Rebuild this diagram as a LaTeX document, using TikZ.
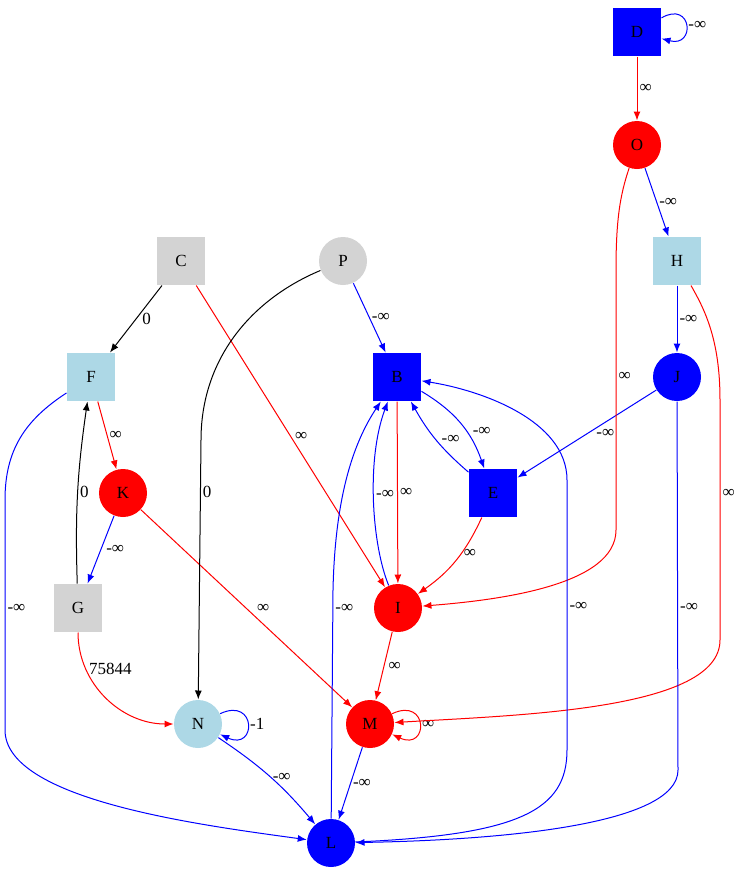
\documentclass[tikz,border=0pt]{standalone}
\usepackage{fontspec}
\setmainfont{Liberation Serif}
\usetikzlibrary{arrows.meta}
\definecolor{gvblue}{RGB}{0,0,255}
\definecolor{gvred}{RGB}{255,0,0}
\definecolor{gvlightblue}{RGB}{173,216,230}
\definecolor{gvlightgray}{RGB}{211,211,211}

\begin{document}
\begin{tikzpicture}[x=1pt, y=1pt, font=\fontsize{17}{20}\selectfont,
    >={Latex[length=9pt,width=7pt]}, line width=1pt, inner sep=2pt,
    sq/.style={rectangle, minimum size=48pt, inner sep=0pt},
    rnd/.style={circle, minimum size=48pt, inner sep=0pt},
    ninf/.style={draw=gvblue},
    pinf/.style={draw=gvred},
    zero/.style={draw=black}]
  \useasboundingbox (0,0) rectangle (744,-873);

  \node[sq, fill=gvblue]       (D) at (637,-32)  {D};
  \node[rnd, fill=gvred]       (O) at (637,-145) {O};
  \node[sq, fill=gvlightblue]  (H) at (677,-261) {H};
  \node[rnd, fill=gvblue]      (J) at (677,-377) {J};
  \node[sq, fill=gvlightgray]  (C) at (181,-261) {C};
  \node[rnd, fill=gvlightgray] (P) at (343,-261) {P};
  \node[sq, fill=gvlightblue]  (F) at (91,-377)  {F};
  \node[sq, fill=gvblue]       (B) at (397,-377) {B};
  \node[sq, fill=gvblue]       (E) at (493,-493) {E};
  \node[rnd, fill=gvred]       (K) at (123,-493) {K};
  \node[sq, fill=gvlightgray]  (G) at (78,-608)  {G};
  \node[rnd, fill=gvred]       (I) at (398,-608) {I};
  \node[rnd, fill=gvlightblue] (N) at (198,-724) {N};
  \node[rnd, fill=gvred]       (M) at (370,-724) {M};
  \node[rnd, fill=gvblue]      (L) at (331,-843) {L};

  \path[->]
  (D) edge[pinf] node[right] {∞} (O)
      edge[ninf, out=30, in=-15, looseness=4.4] node[right] {-∞} (D)
  (O) edge[ninf] node[right] {-∞} (H)
  (H) edge[ninf] node[right] {-∞} (J)
  (J) edge[ninf] node[right=7pt] {-∞} (E)
  (C) edge[zero] node[right=4pt] {0} (F)
      edge[pinf] node[right=2pt] {∞} (I)
  (P) edge[ninf] node[right] {-∞} (B)
  (F) edge[pinf] node[right] {∞} (K)
  (K) edge[ninf] node[right=3pt] {-∞} (G)
      edge[pinf] node[right=8pt] {∞} (M)
  (G) edge[zero, bend left=5] node[right] {0} (F)
      edge[pinf, out=-90, in=180] node[pos=.25, right=1pt] {75844} (N)
  (B) edge[pinf] node[right] {∞} (I)
      edge[ninf, bend left=20] node[pos=.6, right=4pt] {-∞} (E)
  (E) edge[ninf, bend left=10] node[right=3pt] {-∞} (B)
      edge[pinf, bend left=15] node[pos=.4, right] {∞} (I)
  (I) edge[pinf] node[right=2pt] {∞} (M)
  (N) edge[ninf, out=25, in=-25, looseness=5] node[right] {-1} (N)
      edge[ninf, bend left=8] node[right] {-∞} (L)
  (M) edge[pinf, out=25, in=-25, looseness=5] node[right] {∞} (M)
      edge[ninf] node[right] {-∞} (L)
  ;

  % long routed edges
  \draw[->, pinf] (O) .. controls (620,-195) and (616,-220) .. (616,-270)
    -- node[pos=.41, right] {∞} (616,-530) .. controls (616,-585) and (500,-600) .. (I);
  \draw[->, pinf] (H) .. controls (705,-310) and (720,-340) .. (720,-400)
    -- node[pos=.39, right] {∞} (720,-640) .. controls (720,-710) and (520,-715) .. (M);
  \draw[->, ninf] (J) -- node[pos=.56, right] {-∞} (678,-770)
    .. controls (678,-825) and (500,-840) .. (L);
  \draw[->, ninf] (L) .. controls (520,-835) and (567,-810) .. (567,-750)
    -- node[pos=.53, right] {-∞} (567,-480) .. controls (567,-420) and (480,-390) .. (B);
  \draw[->, ninf] (L) -- node[pos=.92, right] {-∞} (333,-590)
    .. controls (335,-500) and (352,-445) .. (B);
  \draw[->, ninf] (I) .. controls (372,-545) and (366,-460) .. node[pos=.53, right] {-∞} (B);
  \draw[->, ninf] (F) .. controls (25,-420) and (5,-450) .. (5,-500)
    -- node[pos=.47, right] {-∞} (5,-730) .. controls (5,-800) and (200,-825) .. (L);
  \draw[->, zero] (P) .. controls (250,-300) and (201,-360) .. (201,-440)
    -- node[pos=.2, right] {0} (N);
\end{tikzpicture}
\end{document}
